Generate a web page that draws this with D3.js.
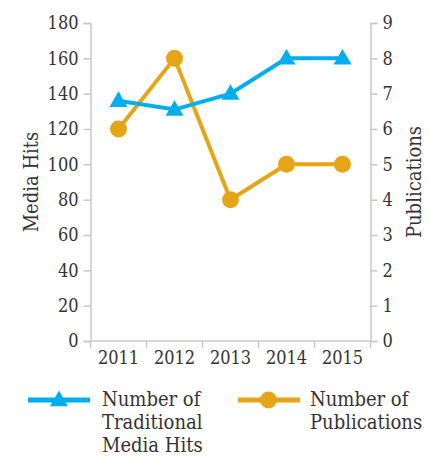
<!DOCTYPE html>
<html><head><meta charset="utf-8">
<script src="https://cdn.jsdelivr.net/npm/d3@7"></script>
<style>
body{margin:0;background:#fff;}
text{font-family:"DejaVu Serif Condensed","DejaVu Serif",serif;fill:#333;}
</style></head>
<body><svg id="c" width="430" height="460"></svg>
<script>
const years = ["2011","2012","2013","2014","2015"];
const mediaHits = [136, 131, 140, 160, 160];
const publications = [6, 8, 4, 5, 5];
const leftTicks = [0,20,40,60,80,100,120,140,160,180];
const rightTicks = [0,1,2,3,4,5,6,7,8,9];
const seriesNames = [["Number of","Traditional","Media Hits"],["Number of","Publications"]];

const blue = "#00AEEF", orange = "#E6A517", axisCol = "#c8c8c8";
const svg = d3.select("#c");
const L = 90.5, R = 370.5, T = 23, B = 341;
const x = d3.scaleBand().domain(years).range([L, R]);
const yL = d3.scaleLinear().domain([0,180]).range([B, T]);
const yR = d3.scaleLinear().domain([0,9]).range([B, T]);

function styleAxis(g){
  g.selectAll("path,line").attr("stroke", axisCol).attr("stroke-width", 1.5);
  g.selectAll("text").attr("font-size", 18).attr("fill", "#333");
}
svg.append("g").attr("transform",`translate(${L},0)`)
  .call(d3.axisLeft(yL).tickValues(leftTicks).tickSize(7).tickSizeOuter(7).tickPadding(5)).call(styleAxis);
svg.append("g").attr("transform",`translate(${R},0)`)
  .call(d3.axisRight(yR).tickValues(rightTicks).tickSize(7).tickSizeOuter(7).tickPadding(5)).call(styleAxis);
const xa = svg.append("g").attr("transform",`translate(0,${B})`)
  .call(d3.axisBottom(x).tickSize(0).tickPadding(10));
styleAxis(xa);
xa.select(".domain").remove();
xa.append("line").attr("x1",L).attr("x2",R).attr("stroke",axisCol).attr("stroke-width",1.5);
xa.selectAll(".sep").data(years.concat(["end"])).enter().append("line")
  .attr("x1",(d,i)=>L+i*x.bandwidth()).attr("x2",(d,i)=>L+i*x.bandwidth())
  .attr("y1",0).attr("y2",7).attr("stroke",axisCol).attr("stroke-width",1.5);
xa.selectAll("text").attr("dy","0.71em");

svg.append("text").attr("transform",`translate(38,${(T+B)/2}) rotate(-90)`)
  .attr("text-anchor","middle").attr("font-size",20).text("Media Hits");
svg.append("text").attr("transform",`translate(421,${(T+B)/2}) rotate(-90)`)
  .attr("text-anchor","middle").attr("font-size",20).text("Publications");

const cx = d => x(d) + x.bandwidth()/2;
const lineL = d3.line().x((d,i)=>cx(years[i])).y(d=>yL(d));
const lineR = d3.line().x((d,i)=>cx(years[i])).y(d=>yR(d));
svg.append("path").datum(publications).attr("d",lineR).attr("fill","none").attr("stroke",orange).attr("stroke-width",4);
svg.selectAll(".pc").data(publications).enter().append("circle")
  .attr("cx",(d,i)=>cx(years[i])).attr("cy",d=>yR(d)).attr("r",8.5).attr("fill",orange);
svg.append("path").datum(mediaHits).attr("d",lineL).attr("fill","none").attr("stroke",blue).attr("stroke-width",4);
const tri = d3.symbol().type(d3.symbolTriangle).size(140);
svg.selectAll(".mt").data(mediaHits).enter().append("path")
  .attr("d",tri).attr("transform",(d,i)=>`translate(${cx(years[i])},${yL(d)+1})`).attr("fill",blue);

// legend
const lg = svg.append("g");
lg.append("line").attr("x1",28).attr("x2",90).attr("y1",400).attr("y2",400).attr("stroke",blue).attr("stroke-width",5);
lg.append("path").attr("d",tri).attr("transform","translate(59,401)").attr("fill",blue);
lg.append("line").attr("x1",238).attr("x2",300).attr("y1",400).attr("y2",400).attr("stroke",orange).attr("stroke-width",5);
lg.append("circle").attr("cx",268.5).attr("cy",400).attr("r",8.5).attr("fill",orange);
[[102,seriesNames[0]],[310,seriesNames[1]]].forEach(([tx,lines])=>{
  const t = lg.append("text").attr("x",tx).attr("y",406).attr("font-size",20);
  lines.forEach((s,i)=>t.append("tspan").attr("x",tx).attr("dy",i?23:0).text(s));
});
</script></body></html>
